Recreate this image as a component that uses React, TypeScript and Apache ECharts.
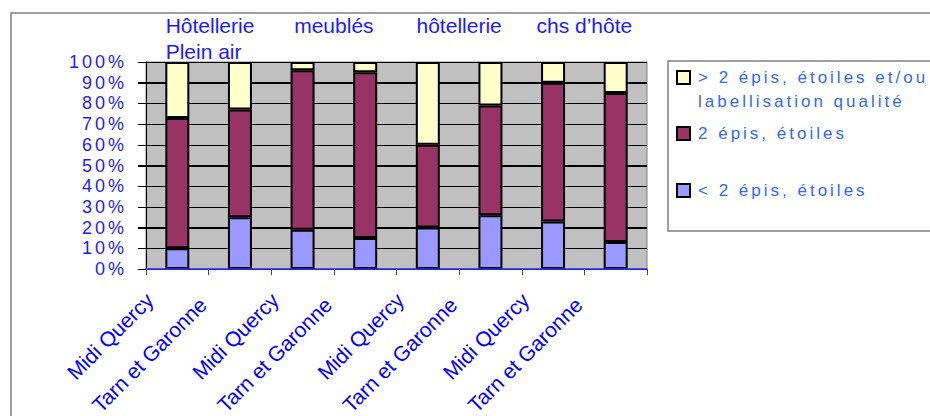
import React, { useEffect, useRef } from "react";
import * as echarts from "echarts";

const categories = [
  "Midi Quercy", "Tarn et Garonne",
  "Midi Quercy", "Tarn et Garonne",
  "Midi Quercy", "Tarn et Garonne",
  "Midi Quercy", "Tarn et Garonne",
];
const groupLabels = ["Hôtellerie\nPlein air", "meublés", "hôtellerie", "chs d’hôte"];

const seriesNames = [
  "< 2 épis, étoiles",
  "2 épis, étoiles",
  "> 2 épis, étoiles et/ou\nlabellisation qualité",
];
const seriesColors = ["#9999ff", "#993366", "#ffffcc"];

const lowValues = [10, 25, 19, 15, 20, 26, 23, 13];
const midValues = [63, 52, 77, 80, 40, 53, 67, 72];
const highValues = [27, 23, 4, 5, 40, 21, 10, 15];

const yMin = 0;
const yMax = 100;
const yStep = 10;
const yTickValues = [0, 10, 20, 30, 40, 50, 60, 70, 80, 90, 100];

const FONT = '"Liberation Sans", Arial, sans-serif';
const TITLE_BLUE = "#1a1aff";
const YLABEL_BLUE = "#1b1bfe";
const LEGEND_BLUE = "#3366ff";

const css = `
#chartbox text[fill="${LEGEND_BLUE}"] { letter-spacing: 3px; }
#chartbox text[fill="${YLABEL_BLUE}"] { letter-spacing: 3px; }
`;

function buildOption() {
  const values = [lowValues, midValues, highValues];
  const barSeries = values.map((data, i) => ({
    name: seriesNames[i],
    type: "bar",
    stack: "total",
    xAxisIndex: 0,
    yAxisIndex: 0,
    barWidth: 24,
    z: 5,
    data,
    itemStyle: { color: seriesColors[i], borderColor: "#000", borderWidth: 2 },
  }));

  const gridLineSeries = {
    name: "grid lines",
    type: "custom",
    xAxisIndex: 0,
    yAxisIndex: 0,
    z: 4,
    silent: true,
    clip: false,
    encode: { x: 0, y: 1 },
    data: yTickValues.map((v) => [0, v]),
    renderItem: (params: any, api: any) => {
      const cs = params.coordSys;
      const yy = Math.round(api.coord([0, api.value(1)])[1]) + 0.5;
      const children: any[] = [
        {
          type: "line",
          shape: { x1: cs.x - 8, y1: yy, x2: cs.x + cs.width, y2: yy },
          style: { stroke: "#000000", lineWidth: 1 },
        },
      ];
      if (params.dataIndex === 0) {
        const xx = Math.round(cs.x) + 0.5;
        children.push({
          type: "line",
          shape: { x1: xx, y1: cs.y, x2: xx, y2: cs.y + cs.height },
          style: { stroke: "#000000", lineWidth: 1 },
        });
      }
      return { type: "group", children };
    },
  };

  const legendOrder = [2, 1, 0];
  const legendMarkerY = [71, 127, 184];
  const legendTextTop = [65.5, 121.5, 178.5];
  const legendItems: any[] = [];
  legendOrder.forEach((si, k) => {
    legendItems.push({
      type: "rect",
      shape: { x: 677, y: legendMarkerY[k], width: 13, height: 13 },
      style: { fill: seriesColors[si], stroke: "#000", lineWidth: 2 },
      z: 20,
    });
    legendItems.push({
      type: "text",
      x: 698,
      y: legendTextTop[k],
      style: {
        text: seriesNames[si],
        fill: LEGEND_BLUE,
        font: `17px ${FONT}`,
        verticalAlign: "top",
        lineHeight: 24,
      },
      z: 20,
    });
  });

  return {
    animation: false,
    backgroundColor: "#ffffff",
    grid: {
      left: 146,
      top: 62,
      width: 501,
      height: 207,
      outerBoundsMode: "none",
      show: true,
      backgroundColor: "#c0c0c0",
      borderColor: "#808080",
      borderWidth: 1,
      z: -1,
    },
    xAxis: [
      {
        type: "category",
        data: categories,
        position: "bottom",
        z: 6,
        axisLine: { show: true, lineStyle: { color: "#3333ff", width: 1.5 } },
        axisTick: { show: true, length: 6, lineStyle: { color: "#3333ff", width: 1 } },
        axisLabel: {
          interval: 0,
          rotate: 45,
          margin: 0,
          color: "#0000ff",
          fontSize: 21,
          fontFamily: FONT,
          formatter: (v: string) => (v.startsWith("Tarn") ? `{t|${v}}` : `{m|${v}}`),
          rich: {
            m: { padding: [0, 39, 0, 0], fontSize: 21, fontFamily: FONT, color: "#0000ff" },
            t: { padding: [0, 49, 7, 0], fontSize: 21, fontFamily: FONT, color: "#0000ff" },
          },
        },
        splitLine: { show: false },
      },
      {
        type: "category",
        data: groupLabels,
        position: "top",
        axisLine: { show: false },
        axisTick: { show: false },
        axisLabel: {
          interval: 0,
          margin: 50,
          verticalAlign: "top",
          color: TITLE_BLUE,
          fontSize: 21,
          fontFamily: FONT,
          lineHeight: 26,
          formatter: (v: string) =>
            v.includes("\n")
              ? v.split("\n").map((s) => `{w|${s}}`).join("\n")
              : v,
          rich: {
            w: {
              width: 92,
              padding: [0, 0, 0, 6],
              align: "left",
              fontSize: 21,
              fontFamily: FONT,
              color: TITLE_BLUE,
              lineHeight: 26,
            },
          },
        },
        splitLine: { show: false },
      },
    ],
    yAxis: {
      type: "value",
      min: yMin,
      max: yMax,
      interval: yStep,
      z: 3,
      axisLine: { show: true, lineStyle: { color: "#000000", width: 1 } },
      axisTick: { show: true, length: 8, lineStyle: { color: "#000000", width: 1 } },
      axisLabel: {
        formatter: "{value}%",
        color: YLABEL_BLUE,
        fontSize: 18,
        fontFamily: FONT,
        margin: 19,
      },
      splitLine: { show: true, lineStyle: { color: "#000000", width: 1 } },
    },
    series: [gridLineSeries, ...barSeries],
    graphic: [
      {
        type: "rect",
        shape: { x: 11, y: 13, width: 940, height: 420 },
        style: { fill: "none", stroke: "#808080", lineWidth: 1.5 },
        z: -5,
        silent: true,
      },
      {
        type: "rect",
        shape: { x: 668, y: 61, width: 280, height: 170 },
        style: { fill: "#ffffff", stroke: "#808080", lineWidth: 1.5 },
        z: 10,
        silent: true,
      },
      ...legendItems,
    ],
  };
}

export default function App() {
  const ref = useRef<HTMLDivElement>(null);
  useEffect(() => {
    if (!ref.current) return;
    const chart = echarts.init(ref.current, null, { renderer: "svg" });
    chart.setOption(buildOption() as any);
    return () => chart.dispose();
  }, []);
  return (
    <>
      <style>{css}</style>
      <div
        id="chartbox"
        ref={ref}
        style={{ position: "fixed", left: 0, top: 0, width: 930, height: 416 }}
      />
    </>
  );
}
